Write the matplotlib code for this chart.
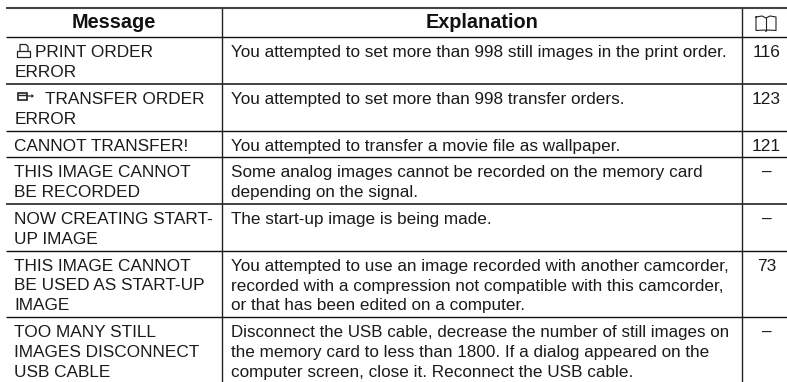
import matplotlib
matplotlib.use("Agg")
import matplotlib.pyplot as plt
from matplotlib.patches import Rectangle, Polygon

W, H = 787, 382

headers = ["Message", "Explanation"]

messages = [
    ["PRINT ORDER", "ERROR"],
    ["TRANSFER ORDER", "ERROR"],
    ["CANNOT TRANSFER!"],
    ["THIS IMAGE CANNOT", "BE RECORDED"],
    ["NOW CREATING START-", "UP IMAGE"],
    ["THIS IMAGE CANNOT", "BE USED AS START-UP", "IMAGE"],
    ["TOO MANY STILL", "IMAGES DISCONNECT", "USB CABLE"],
]

explanations = [
    ["You attempted to set more than 998 still images in the print order."],
    ["You attempted to set more than 998 transfer orders."],
    ["You attempted to transfer a movie file as wallpaper."],
    ["Some analog images cannot be recorded on the memory card",
     "depending on the signal."],
    ["The start-up image is being made."],
    ["You attempted to use an image recorded with another camcorder,",
     "recorded with a compression not compatible with this camcorder,",
     "or that has been edited on a computer."],
    ["Disconnect the USB cable, decrease the number of still images on",
     "the memory card to less than 1800. If a dialog appeared on the",
     "computer screen, close it. Reconnect the USB cable."],
]

pages = ["116", "123", "121", "–", "–", "73", "–"]

row_lines = [37, 84, 130.7, 157.3, 204, 250.7, 317.3]
heavy = [False, True, False, False, True, False, False]
col_lines = [222, 742.3]
left, right = 6, 787
top, bottom = 7.7, 382
line_gap = 19.8
fs_msg = 12.4
fs_exp = 12.3

plt.rcParams["font.family"] = ["Liberation Sans", "DejaVu Sans"]
fig = plt.figure(figsize=(W / 100, H / 100), dpi=100)
ax = fig.add_axes([0, 0, 1, 1])
ax.set_xlim(0, W)
ax.set_ylim(H, 0)
ax.axis("off")

# rules
ax.plot([left, right], [top, top], color="#444444", lw=1.5, solid_capstyle="butt")
for y, t in zip(row_lines, heavy):
    ax.plot([left, right], [y, y], color="#444444" if t else "#111111", lw=1.4 if t else 1.0, solid_capstyle="butt")
for x in col_lines:
    ax.plot([x, x], [top, bottom], color="#222222", lw=1.0, solid_capstyle="butt")

# header
ax.text(113.5, 22.5, headers[0], ha="center", va="center", fontsize=14.3, fontweight="bold", color="#111111")
ax.text(481.7, 22.5, headers[1], ha="center", va="center", fontsize=14.3, fontweight="bold", color="#111111")

# book icon in the header
ax.plot([756, 756, 765, 766, 767, 776, 776, 770, 766, 762, 756],
        [17, 30.5, 30, 31.5, 30, 30.5, 17, 16, 18, 16, 17], color="#222222", lw=0.8)
ax.plot([766, 766], [18, 30], color="#222222", lw=0.8)

# print icon
ax.plot([20, 20, 26, 28, 28], [51, 44.5, 44.5, 46.5, 51], color="#222222", lw=0.9)
ax.add_patch(Rectangle((17, 51), 13, 5.5, fill=False, ec="#222222", lw=0.9))
# transfer icon
ax.add_patch(Rectangle((18, 92.5), 8.5, 7, fc="white", ec="#222222", lw=1.2))
ax.plot([19, 25.5], [95, 95], color="#222222", lw=1.0)
ax.add_patch(Polygon([(27, 95.4), (31.5, 95.4), (31.5, 94), (34, 96), (31.5, 98), (31.5, 96.6), (27, 96.6)],
                     fc="#222222", ec="none"))

edges = row_lines + [bottom]
x_offset = {0: 35, 1: 45}
# these lines run a bit wider or tighter than the others in the reference
line_fs = {(0, 0): 12.36, (6, 0): 12.18}
for i, (msg, exp, pg) in enumerate(zip(messages, explanations, pages)):
    base = edges[i] + 20
    for j, line in enumerate(msg):
        x = x_offset.get(i, 14.5) if j == 0 else 14.5
        ax.text(x, base + j * line_gap, line, ha="left", va="baseline", fontsize=fs_msg, color="#1a1a1a")
    for j, line in enumerate(exp):
        ax.text(231, base + j * line_gap, line, ha="left", va="baseline",
                fontsize=line_fs.get((i, j), fs_exp), color="#1a1a1a")
    ax.text(766.5, base, pg, ha="center", va="baseline", fontsize=fs_msg, color="#1a1a1a")

fig.savefig("out.png", dpi=100)
